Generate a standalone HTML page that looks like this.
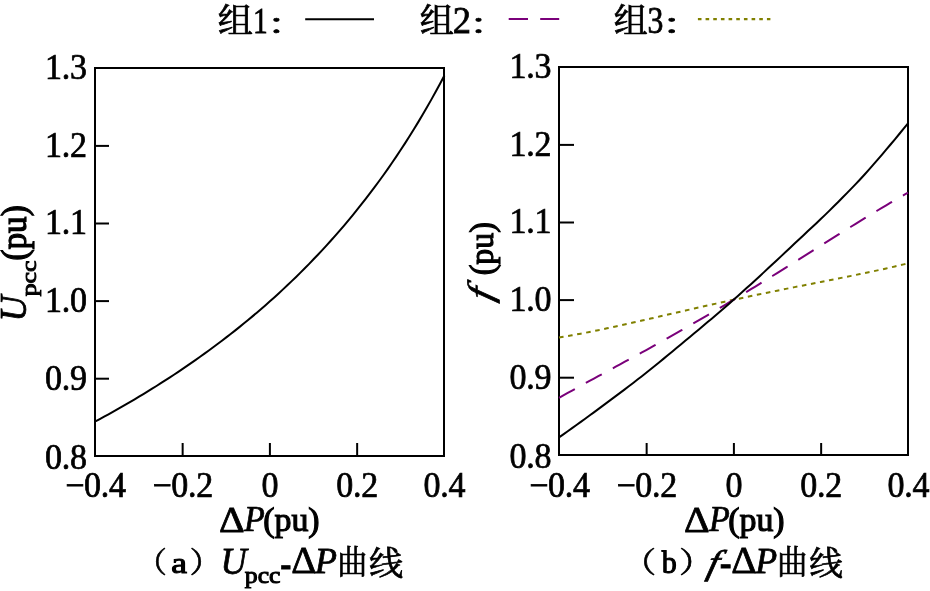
<!DOCTYPE html>
<html lang="zh"><head><meta charset="utf-8"><title>Upcc-ΔP 与 f-ΔP 曲线</title>
<style>
html,body{margin:0;padding:0;background:#fff;}
svg{display:block}
text{font-family:"Liberation Serif","Noto Serif CJK SC",serif;font-size:34px;fill:#000;stroke:#000;stroke-width:0.7px}
.it{font-style:italic}
.tk{letter-spacing:-0.3px}
</style></head><body>
<svg width="930" height="591" viewBox="0 0 930 591">
<rect width="930" height="591" fill="#fff"/>

<text transform="translate(217.73,32.19) scale(1.068,1.003)" style="font-size:33px">组</text>
<text transform="translate(253.10,32.80) scale(0.867,1.077)">1</text>
<text transform="translate(266.40,34.42) scale(1.300,0.850)" style="font-size:33px">：</text>
<text transform="translate(419.76,32.19) scale(1.039,1.003)" style="font-size:33px">组</text>
<text transform="translate(452.83,32.80) scale(1.073,1.100)">2</text>
<text transform="translate(468.70,34.42) scale(1.280,0.850)" style="font-size:33px">：</text>
<text transform="translate(613.87,32.19) scale(1.032,1.003)" style="font-size:33px">组</text>
<text transform="translate(647.57,32.80) scale(0.933,1.100)">3</text>
<text transform="translate(660.90,34.42) scale(1.400,0.850)" style="font-size:33px">：</text>
<line x1="305.2" y1="19.2" x2="374" y2="19.2" stroke="#000" stroke-width="2"/>
<line x1="508.7" y1="19" x2="559.2" y2="19" stroke="#7a007a" stroke-width="2.2" stroke-dasharray="19.3 12.2"/>
<line x1="697.9" y1="19.1" x2="770.4" y2="19.1" stroke="#808000" stroke-width="2.3" stroke-dasharray="3.6 4.07"/>
<rect x="95.0" y="68.0" width="349.0" height="388.0" fill="none" stroke="#000" stroke-width="2"/>
<line x1="95.0" y1="378.70" x2="109.0" y2="378.70" stroke="#000" stroke-width="2"/>
<line x1="95.0" y1="301.10" x2="109.0" y2="301.10" stroke="#000" stroke-width="2"/>
<line x1="95.0" y1="223.50" x2="109.0" y2="223.50" stroke="#000" stroke-width="2"/>
<line x1="95.0" y1="145.90" x2="109.0" y2="145.90" stroke="#000" stroke-width="2"/>
<line x1="182.65" y1="456.0" x2="182.65" y2="443.0" stroke="#000" stroke-width="2"/>
<line x1="269.90" y1="456.0" x2="269.90" y2="443.0" stroke="#000" stroke-width="2"/>
<line x1="357.15" y1="456.0" x2="357.15" y2="443.0" stroke="#000" stroke-width="2"/>
<text class="tk" transform="translate(86.60,469.30) scale(1,1.045)" text-anchor="end">0.8</text>
<text class="tk" transform="translate(86.60,389.50) scale(1,1.045)" text-anchor="end">0.9</text>
<text class="tk" transform="translate(86.60,311.90) scale(1,1.045)" text-anchor="end">1.0</text>
<text class="tk" transform="translate(86.60,234.30) scale(1,1.045)" text-anchor="end">1.1</text>
<text class="tk" transform="translate(86.60,156.70) scale(1,1.045)" text-anchor="end">1.2</text>
<text class="tk" transform="translate(86.60,79.10) scale(1,1.045)" text-anchor="end">1.3</text>
<text class="tk" transform="translate(95.40,497.3) scale(1,1.045)" text-anchor="middle">−0.4</text>
<text class="tk" transform="translate(182.65,497.3) scale(1,1.045)" text-anchor="middle">−0.2</text>
<text class="tk" transform="translate(269.90,497.3) scale(1,1.045)" text-anchor="middle">0</text>
<text class="tk" transform="translate(357.15,497.3) scale(1,1.045)" text-anchor="middle">0.2</text>
<text class="tk" transform="translate(444.40,497.3) scale(1,1.045)" text-anchor="middle">0.4</text>
<rect x="559.0" y="67.0" width="349.0" height="388.0" fill="none" stroke="#000" stroke-width="2"/>
<line x1="559.0" y1="377.70" x2="574.0" y2="377.70" stroke="#000" stroke-width="2"/>
<line x1="559.0" y1="300.10" x2="574.0" y2="300.10" stroke="#000" stroke-width="2"/>
<line x1="559.0" y1="222.50" x2="574.0" y2="222.50" stroke="#000" stroke-width="2"/>
<line x1="559.0" y1="144.90" x2="574.0" y2="144.90" stroke="#000" stroke-width="2"/>
<line x1="646.65" y1="455.0" x2="646.65" y2="443.0" stroke="#000" stroke-width="2"/>
<line x1="733.90" y1="455.0" x2="733.90" y2="443.0" stroke="#000" stroke-width="2"/>
<line x1="821.15" y1="455.0" x2="821.15" y2="443.0" stroke="#000" stroke-width="2"/>
<text class="tk" transform="translate(551.10,468.30) scale(1,1.045)" text-anchor="end">0.8</text>
<text class="tk" transform="translate(551.10,388.50) scale(1,1.045)" text-anchor="end">0.9</text>
<text class="tk" transform="translate(551.10,310.90) scale(1,1.045)" text-anchor="end">1.0</text>
<text class="tk" transform="translate(551.10,233.30) scale(1,1.045)" text-anchor="end">1.1</text>
<text class="tk" transform="translate(551.10,155.70) scale(1,1.045)" text-anchor="end">1.2</text>
<text class="tk" transform="translate(551.10,78.10) scale(1,1.045)" text-anchor="end">1.3</text>
<text class="tk" transform="translate(559.40,497.3) scale(1,1.045)" text-anchor="middle">−0.4</text>
<text class="tk" transform="translate(646.65,497.3) scale(1,1.045)" text-anchor="middle">−0.2</text>
<text class="tk" transform="translate(733.90,497.3) scale(1,1.045)" text-anchor="middle">0</text>
<text class="tk" transform="translate(821.15,497.3) scale(1,1.045)" text-anchor="middle">0.2</text>
<text class="tk" transform="translate(908.40,497.3) scale(1,1.045)" text-anchor="middle">0.4</text>
<polyline transform="translate(0.4,0.5)" points="95.00,420.96 99.36,418.61 103.73,416.22 108.09,413.82 112.45,411.39 116.81,408.93 121.17,406.44 125.54,403.92 129.90,401.38 134.26,398.81 138.62,396.20 142.99,393.57 147.35,390.91 151.71,388.21 156.07,385.48 160.44,382.72 164.80,379.93 169.16,377.10 173.52,374.24 177.89,371.35 182.25,368.41 186.61,365.44 190.98,362.43 195.34,359.39 199.70,356.30 204.06,353.18 208.43,350.01 212.79,346.80 217.15,343.55 221.51,340.25 225.87,336.91 230.24,333.53 234.60,330.09 238.96,326.61 243.32,323.08 247.69,319.50 252.05,315.87 256.41,312.18 260.77,308.45 265.14,304.65 269.50,300.80 273.86,296.89 278.23,292.92 282.59,288.89 286.95,284.80 291.31,280.64 295.68,276.42 300.04,272.13 304.40,267.76 308.76,263.33 313.12,258.82 317.49,254.24 321.85,249.58 326.21,244.84 330.58,240.02 334.94,235.11 339.30,230.11 343.66,225.03 348.03,219.85 352.39,214.58 356.75,209.21 361.11,203.73 365.47,198.15 369.84,192.47 374.20,186.67 378.56,180.75 382.93,174.72 387.29,168.56 391.65,162.28 396.01,155.86 400.37,149.30 404.74,142.61 409.10,135.76 413.46,128.77 417.82,121.61 422.19,114.29 426.55,106.80 430.91,99.13 435.27,91.28 439.64,83.23 444.00,74.99" fill="none" stroke="#000" stroke-width="2"/>
<polyline points="559.00,337.51 563.36,336.79 567.73,336.05 572.09,335.28 576.45,334.48 580.81,333.66 585.17,332.82 589.54,331.96 593.90,331.08 598.26,330.19 602.62,329.28 606.99,328.35 611.35,327.41 615.71,326.46 620.08,325.50 624.44,324.54 628.80,323.56 633.16,322.57 637.52,321.58 641.89,320.59 646.25,319.59 650.61,318.58 654.98,317.58 659.34,316.57 663.70,315.56 668.06,314.56 672.42,313.55 676.79,312.54 681.15,311.54 685.51,310.54 689.88,309.54 694.24,308.54 698.60,307.55 702.96,306.56 707.33,305.58 711.69,304.60 716.05,303.63 720.41,302.66 724.77,301.70 729.14,300.75 733.50,299.80 737.86,298.86 742.23,297.92 746.59,296.99 750.95,296.07 755.31,295.15 759.67,294.24 764.04,293.33 768.40,292.43 772.76,291.54 777.12,290.65 781.49,289.77 785.85,288.89 790.21,288.01 794.58,287.14 798.94,286.27 803.30,285.40 807.66,284.54 812.03,283.68 816.39,282.81 820.75,281.95 825.11,281.09 829.47,280.23 833.84,279.36 838.20,278.49 842.56,277.62 846.92,276.74 851.29,275.86 855.65,274.97 860.01,274.07 864.38,273.16 868.74,272.24 873.10,271.32 877.46,270.37 881.83,269.42 886.19,268.45 890.55,267.46 894.91,266.46 899.27,265.44 903.64,264.39 908.00,263.33" fill="none" stroke="#808000" stroke-width="2" stroke-dasharray="4.6 4.6"/>
<polyline points="559.00,397.81 563.36,395.38 567.73,392.95 572.09,390.54 576.45,388.14 580.81,385.75 585.17,383.36 589.54,380.97 593.90,378.60 598.26,376.22 602.62,373.85 606.99,371.48 611.35,369.10 615.71,366.73 620.08,364.35 624.44,361.97 628.80,359.59 633.16,357.20 637.52,354.81 641.89,352.41 646.25,350.01 650.61,347.59 654.98,345.17 659.34,342.74 663.70,340.31 668.06,337.86 672.42,335.40 676.79,332.93 681.15,330.45 685.51,327.96 689.88,325.46 694.24,322.95 698.60,320.42 702.96,317.89 707.33,315.34 711.69,312.78 716.05,310.21 720.41,307.62 724.77,305.03 729.14,302.42 733.50,299.80 737.86,297.17 742.23,294.53 746.59,291.88 750.95,289.21 755.31,286.54 759.67,283.86 764.04,281.17 768.40,278.47 772.76,275.76 777.12,273.05 781.49,270.32 785.85,267.59 790.21,264.86 794.58,262.12 798.94,259.38 803.30,256.63 807.66,253.88 812.03,251.13 816.39,248.38 820.75,245.64 825.11,242.89 829.47,240.14 833.84,237.40 838.20,234.67 842.56,231.94 846.92,229.21 851.29,226.50 855.65,223.80 860.01,221.11 864.38,218.43 868.74,215.77 873.10,213.12 877.46,210.49 881.83,207.88 886.19,205.29 890.55,202.72 894.91,200.18 899.27,197.66 903.64,195.17 908.00,192.71" fill="none" stroke="#7a007a" stroke-width="2" stroke-dasharray="18.1 12.6"/>
<polyline points="559.00,437.38 563.36,434.32 567.73,431.23 572.09,428.12 576.45,424.99 580.81,421.85 585.17,418.69 589.54,415.51 593.90,412.32 598.26,409.11 602.62,405.89 606.99,402.66 611.35,399.41 615.71,396.15 620.08,392.88 624.44,389.59 628.80,386.28 633.16,382.94 637.52,379.57 641.89,376.17 646.25,372.74 650.61,369.27 654.98,365.76 659.34,362.22 663.70,358.64 668.06,355.05 672.42,351.44 676.79,347.83 681.15,344.21 685.51,340.59 689.88,336.96 694.24,333.33 698.60,329.68 702.96,326.02 707.33,322.35 711.69,318.65 716.05,314.93 720.41,311.19 724.77,307.43 729.14,303.63 733.50,299.80 737.86,295.94 742.23,292.04 746.59,288.11 750.95,284.15 755.31,280.16 759.67,276.15 764.04,272.13 768.40,268.08 772.76,264.02 777.12,259.95 781.49,255.86 785.85,251.78 790.21,247.69 794.58,243.60 798.94,239.51 803.30,235.42 807.66,231.35 812.03,227.29 816.39,223.24 820.75,219.10 825.11,214.86 829.47,210.60 833.84,206.30 838.20,201.96 842.56,197.57 846.92,193.13 851.29,188.63 855.65,184.07 860.01,179.44 864.38,174.73 868.74,169.91 873.10,164.95 877.46,159.89 881.83,154.78 886.19,149.65 890.55,144.49 894.91,139.27 899.27,134.01 903.64,128.70 908.00,123.34" fill="none" stroke="#000" stroke-width="2"/>
<text transform="translate(219.12,531.60) scale(1.175,1.073)">Δ</text>
<text transform="translate(243.90,531.40) scale(1.000,1.050)" class="it">P</text>
<text transform="translate(263.20,530.80) scale(0.996,0.988)" style="stroke-width:1.2px">(pu)</text>
<text transform="translate(684.12,531.60) scale(1.175,1.073)">Δ</text>
<text transform="translate(708.90,531.40) scale(1.000,1.050)" class="it">P</text>
<text transform="translate(728.20,530.80) scale(0.996,0.988)" style="stroke-width:1.2px">(pu)</text>
<text transform="translate(26.40,321.56) rotate(-90) scale(1.054,1.105)" class="it">U</text>
<text transform="translate(35.98,296.20) rotate(-90) scale(1.026,0.850)" style="font-size:25px;stroke-width:1.1px">pcc</text>
<text transform="translate(25.60,260.58) rotate(-90) scale(0.976,1.025)" style="stroke-width:1.2px">(pu)</text>
<text transform="translate(491.95,302.08) rotate(-90) scale(1.220,1.031) skewX(-12)" class="it">f</text>
<text transform="translate(492.55,275.24) rotate(-90) scale(0.936,0.981)" style="stroke-width:1.2px">(pu)</text>
<text transform="translate(136.17,572.78) scale(0.930,0.874)" style="font-size:33px">（</text>
<text transform="translate(171.26,572.51) scale(1.043,0.894)" style="stroke-width:1.2px">a</text>
<text transform="translate(189.44,572.78) scale(0.980,0.874)" style="font-size:33px">）</text>
<text transform="translate(220.60,574.30) scale(1.067,1.095)" class="it">U</text>
<text transform="translate(244.80,582.94) scale(1.029,0.926)" style="font-size:25px;stroke-width:1.1px">pcc</text>
<text transform="translate(280.32,577.55) scale(0.980,1.300)">-</text>
<text transform="translate(291.16,573.40) scale(1.145,1.095)">Δ</text>
<text transform="translate(314.77,573.40) scale(1.071,1.082)" class="it">P</text>
<text transform="translate(337.26,573.94) scale(0.914,0.988)" style="font-size:33px">曲</text>
<text transform="translate(369.06,574.57) scale(1.035,1.009)" style="font-size:33px">线</text>
<text transform="translate(622.17,572.78) scale(1.030,0.874)" style="font-size:33px">（</text>
<text transform="translate(661.78,572.95) scale(0.882,0.946)" style="stroke-width:1.2px">b</text>
<text transform="translate(679.10,572.78) scale(1.050,0.874)" style="font-size:33px">）</text>
<text transform="translate(705.87,574.20) scale(1.170,1.012) skewX(-12)" class="it">f</text>
<text transform="translate(719.66,577.20) scale(1.040,1.300)">-</text>
<text transform="translate(731.14,573.40) scale(1.155,1.095)">Δ</text>
<text transform="translate(755.36,573.40) scale(1.057,1.082)" class="it">P</text>
<text transform="translate(777.12,573.94) scale(0.925,0.988)" style="font-size:33px">曲</text>
<text transform="translate(809.28,574.57) scale(1.019,1.009)" style="font-size:33px">线</text>
</svg></body></html>
